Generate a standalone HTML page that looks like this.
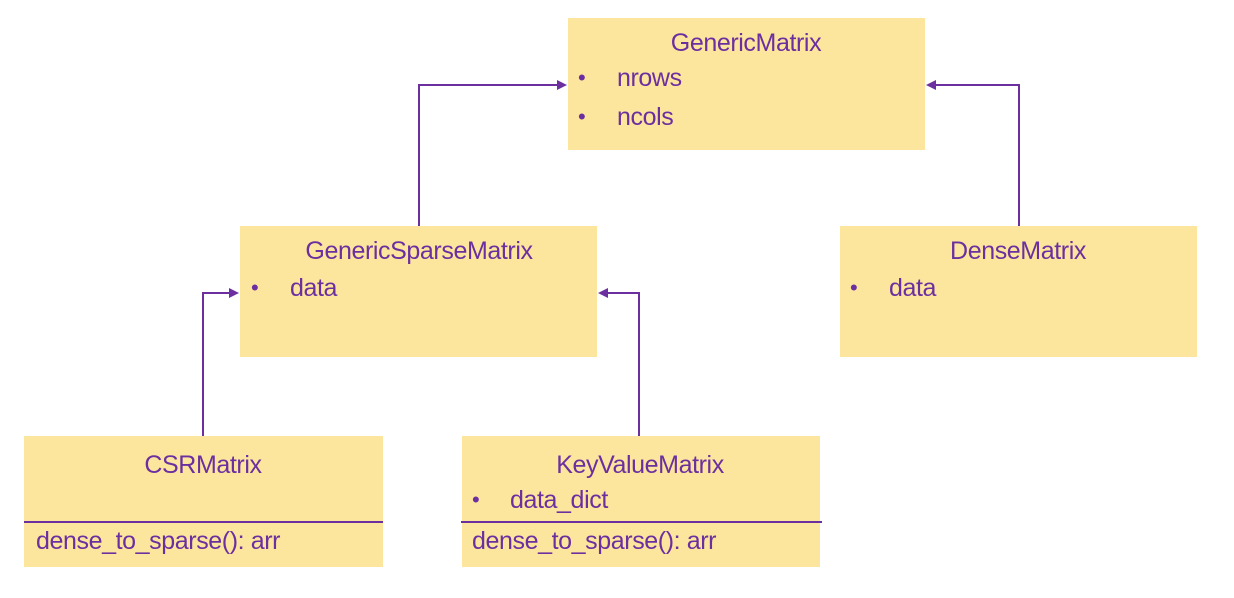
<!DOCTYPE html>
<html><head><meta charset="utf-8"><style>
body{margin:0;width:1234px;height:598px;background:#fff;position:relative;overflow:hidden;font-family:"Liberation Sans",sans-serif;color:#6b2fa0}
.b{position:absolute;background:#fce59c}
.t{position:absolute;font-size:25px;line-height:28px;white-space:nowrap;letter-spacing:-0.4px}
.c{transform:translateX(-50%)}
.d{position:absolute;font-size:22px;line-height:28px}
.hr{position:absolute;height:2px;background:#6b2fa0}
svg{position:absolute;left:0;top:0}
</style></head><body>
<div class="b" style="left:568px;top:18px;width:357px;height:132px"></div>
<div class="b" style="left:240px;top:226px;width:357px;height:131px"></div>
<div class="b" style="left:840px;top:226px;width:357px;height:131px"></div>
<div class="b" style="left:24px;top:436px;width:359px;height:131px"></div>
<div class="b" style="left:462px;top:436px;width:358px;height:131px"></div>
<div class="hr" style="left:24px;top:521px;width:359px"></div>
<div class="hr" style="left:461px;top:521px;width:361px"></div>
<svg width="1234" height="598">
<g fill="none" stroke="#6b2fa0" stroke-width="2">
<polyline points="419,226 419,85 560,85"/>
<polyline points="1019,226 1019,85 933,85"/>
<polyline points="203,436 203,293 232,293"/>
<polyline points="639,436 639,293 605,293"/>
</g>
<g fill="#6b2fa0">
<polygon points="567,85 557,80 557,90"/>
<polygon points="926,85 936,80 936,90"/>
<polygon points="239,293 229,288 229,298"/>
<polygon points="598,293 608,288 608,298"/>
</g>
</svg>
<div class="t c" style="left:746px;top:29px">GenericMatrix</div>
<div class="d" style="left:578px;top:64px">•</div><div class="t" style="left:617px;top:64px">nrows</div>
<div class="d" style="left:578px;top:103px">•</div><div class="t" style="left:617px;top:103px">ncols</div>
<div class="t c" style="left:419px;top:237px">GenericSparseMatrix</div>
<div class="d" style="left:251px;top:274px">•</div><div class="t" style="left:290px;top:274px">data</div>
<div class="t c" style="left:1018px;top:237px">DenseMatrix</div>
<div class="d" style="left:850px;top:274px">•</div><div class="t" style="left:889px;top:274px">data</div>
<div class="t c" style="left:203px;top:451px">CSRMatrix</div>
<div class="t" style="left:36px;top:527px">dense_to_sparse(): arr</div>
<div class="t c" style="left:640px;top:451px">KeyValueMatrix</div>
<div class="d" style="left:472px;top:486px">•</div><div class="t" style="left:510px;top:486px">data_dict</div>
<div class="t" style="left:472px;top:527px">dense_to_sparse(): arr</div>
</body></html>
